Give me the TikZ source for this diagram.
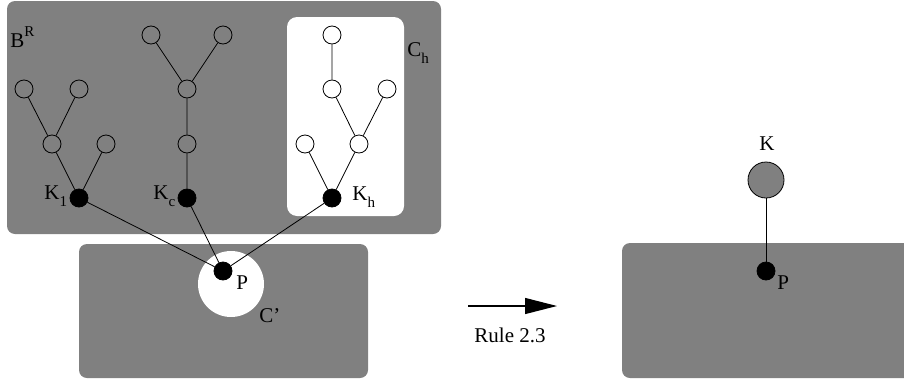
\documentclass[tikz,border=0pt]{standalone}
\usepackage{fontspec}
\setmainfont{Liberation Serif}
\usetikzlibrary{arrows.meta, positioning}
\definecolor{regiongray}{gray}{0.5}
\newcommand{\lowidx}[1]{\raisebox{-0.38em}{\fontsize{15}{17}\selectfont #1}}
\newcommand{\highidx}[1]{\raisebox{0.5em}{\fontsize{15}{17}\selectfont #1}}
\tikzset{
  vtx/.style={circle, draw, inner sep=0pt, minimum size=18pt},
  root/.style={vtx, fill=black},
  region/.style={fill=regiongray, rounded corners=8pt},
  lbl/.style={inner sep=0pt, anchor=base west, font=\fontsize{21}{25}\selectfont},
}

\begin{document}
\begin{tikzpicture}[x=1pt, y=-1pt, line width=0.8pt]
  \useasboundingbox (0,0) rectangle (904,383);
  % the regions
  \fill[region] (7,1) rectangle (441,234);
  \fill[white, rounded corners=10pt] (287,17) rectangle (404,216);
  \fill[region] (79,244) rectangle (368,378);
  \fill[region] (622,243) rectangle (912,378);
  \node[circle, fill=white, minimum size=66pt] (hole) at (231,284) {};
  \node[lbl] at (10,47) {B\highidx{R}};
  \node[lbl] at (407,56) {C\lowidx{h}};
  \node[lbl] at (259,322) {C’};

  % left tree
  \node[root] (k1) at (79,198) {};
  \node[vtx] (a1) at (52,144) {};
  \node[vtx] (a2) at (106,144) {};
  \node[vtx] (a3) at (24,89) {};
  \node[vtx] (a4) at (79,89) {};
  \draw (k1) -- (a1) (k1) -- (a2) (a1) -- (a3) (a1) -- (a4);
  \node[lbl] at (44,199) {K\lowidx{1}};

  % middle tree
  \node[root] (kc) at (187,198) {};
  \node[vtx] (b1) at (187,144) {};
  \node[vtx] (b2) at (187,89) {};
  \node[vtx] (b3) at (151,35) {};
  \node[vtx] (b4) at (223,35) {};
  \draw (kc) -- (b1) -- (b2) -- (b3) (b2) -- (b4);
  \node[lbl] at (153,199) {K\lowidx{c}};

  % right tree (inside C_h)
  \node[root] (kh) at (332,198) {};
  \node[vtx, fill=white] (c1) at (305,144) {};
  \node[vtx, fill=white] (c2) at (359,144) {};
  \node[vtx, fill=white] (c3) at (332,89) {};
  \node[vtx, fill=white] (c4) at (387,89) {};
  \node[vtx, fill=white] (c5) at (332,35) {};
  \draw (kh) -- (c1) (kh) -- (c2) (c2) -- (c3) (c2) -- (c4) (c3) -- (c5);
  \node[lbl] at (352,200) {K\lowidx{h}};

  % attachment point
  \node[root] (p) at (223,271) {};
  \node[lbl] at (236,289) {P};
  \draw (k1) -- (p) (kc) -- (p) (kh) -- (p);

  % the rule
  \coordinate (r1) at (468,306);
  \coordinate (r2) at (557,306);
  \draw[line width=1.2pt, -{Triangle[length=32pt, width=16pt]}] (r1) -- (r2);
  \node[lbl] (rule) at (474,342) {Rule 2.3};

  % result
  \node[vtx, fill=regiongray, minimum size=36pt] (k) at (766,180) {};
  \node[lbl] at (759,150) {K};
  \node[root] (q) at (766,271) {};
  \node[lbl] at (777,289) {P};
  \draw (k) -- (q);
\end{tikzpicture}
\end{document}
